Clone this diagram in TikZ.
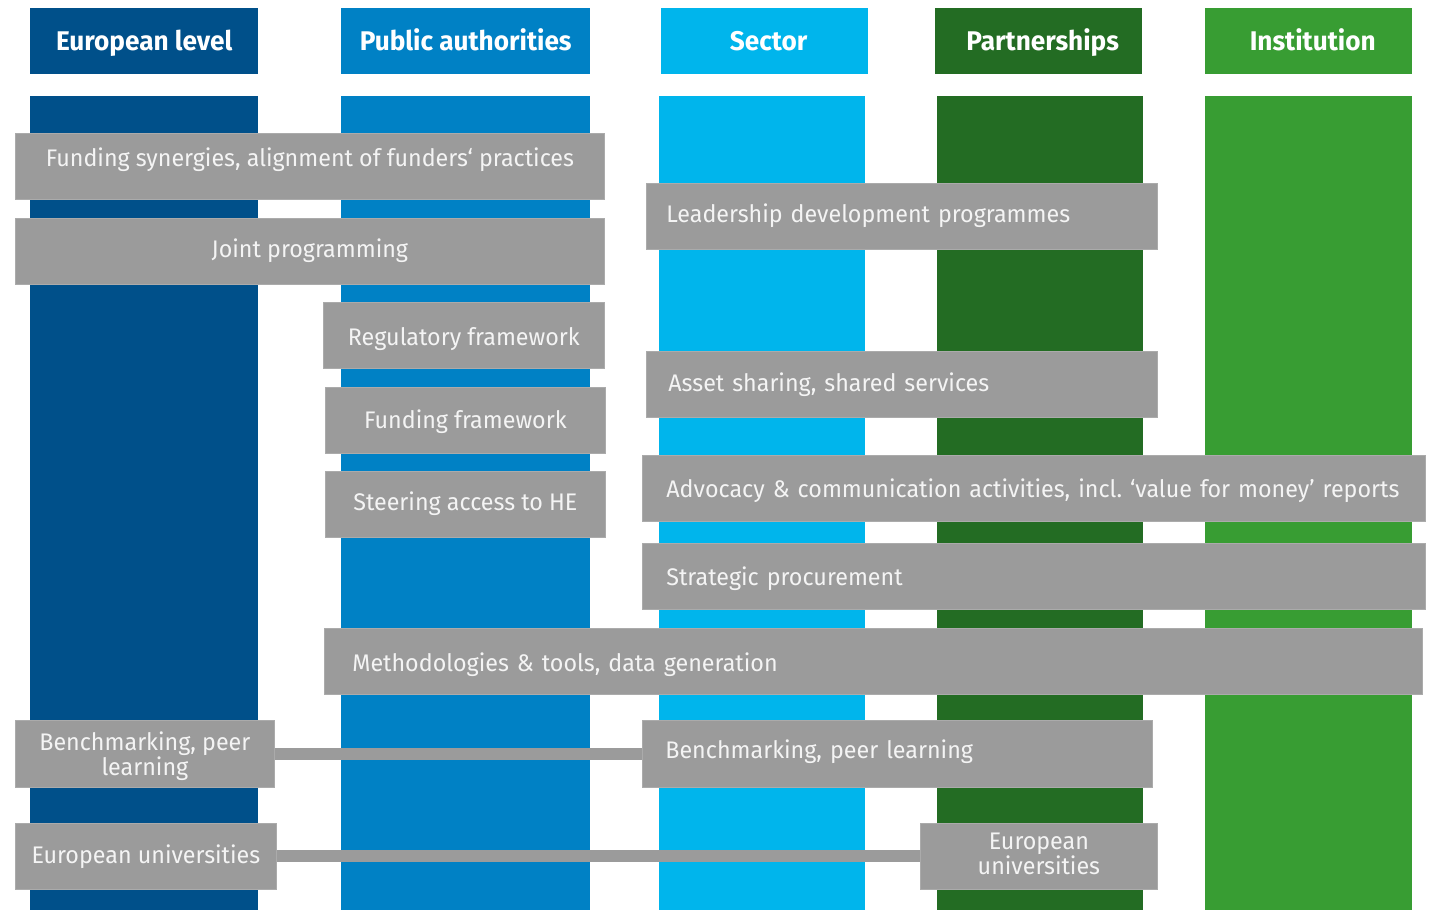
\documentclass[tikz,border=0pt]{standalone}
\usepackage{fontspec}
\setmainfont[FakeStretch=0.97]{Fira Sans}
\definecolor{ceu}{HTML}{00508A}
\definecolor{cpa}{HTML}{0081C5}
\definecolor{csec}{HTML}{00B5EC}
\definecolor{cpart}{HTML}{236C23}
\definecolor{cinst}{HTML}{389D33}
\definecolor{boxgray}{HTML}{9B9B9B}
\definecolor{boxedge}{HTML}{ABABAB}
\definecolor{boxtext}{HTML}{F4F4F4}
\renewcommand\arraystretch{0.92}
\begin{document}
\frenchspacing
\begin{tikzpicture}[x=1pt,y=-1pt,
  hdr/.style={anchor=north west, minimum height=66pt, inner sep=0pt, text=white,
    text height=19pt, text depth=0pt,
    font=\bfseries\fontsize{27}{28}\selectfont},
  colbar/.style={anchor=north west, minimum height=814pt, inner sep=0pt},
  gbox/.style={anchor=north west, fill=boxgray, draw=boxedge, line width=0.8pt,
    minimum height=66pt, inner ysep=0pt, inner xsep=0pt, text=boxtext, align=center,
    text height=16pt, text depth=0pt,
    font=\fontsize{24}{24}\selectfont},
  gboxl/.style={gbox, align=left, inner xsep=#1},
  conn/.style={draw=boxgray, line width=12pt}
]
\useasboundingbox (0,0) rectangle (1430,910);
% headers
\node[hdr, fill=ceu, minimum width=228pt] (h1) at (30,8) {European level};
\node[hdr, fill=cpa, minimum width=249pt] (h2) at (341,8) {Public authorities};
\node[hdr, fill=csec, minimum width=207pt] (h3) at (661,8) {\hspace*{8pt}Sector};
\node[hdr, fill=cpart, minimum width=207pt] (h4) at (935,8) {\hspace*{8pt}Partnerships};
\node[hdr, fill=cinst, minimum width=207pt] (h5) at (1205,8) {\hspace*{8pt}Institution};
% column bars
\node[colbar, fill=ceu, minimum width=228pt] (c1) at (30,96) {};
\node[colbar, fill=cpa, minimum width=249pt] (c2) at (341,96) {};
\node[colbar, fill=csec, minimum width=206pt] (c3) at (659,96) {};
\node[colbar, fill=cpart, minimum width=206pt] (c4) at (937,96) {};
\node[colbar, fill=cinst, minimum width=207pt] (c5) at (1205,96) {};
% grey boxes
\node[gbox, minimum width=589pt] (b1) at (15,133) {\raisebox{8pt}{Funding synergies, alignment of funders‘ practices}};
\node[gbox, minimum width=589pt] (b2) at (15,218) {\raisebox{2pt}{Joint programming}};
\node[gbox, minimum width=281pt] (b3) at (323,302) {\raisebox{-2pt}{Regulatory framework}};
\node[gbox, minimum width=280pt] (b4) at (325,387) {Funding framework};
\node[gbox, minimum width=280pt] (b5) at (325,471) {\raisebox{2pt}{Steering access to HE}};
\node[gboxl=20pt, text width=471pt] (b6) at (646,183) {\raisebox{2pt}{Leadership development programmes}};
\node[gboxl=22pt, text width=467pt] (b7) at (646,351) {\raisebox{1pt}{Asset sharing, shared services}};
\node[gboxl=24pt, text width=735pt] (b8) at (642,455) {\raisebox{-1pt}{Advocacy \& communication activities, incl. ‘value for money’ reports}};
\node[gboxl=24pt, text width=735pt] (b9) at (642,543) {\raisebox{-1pt}{Strategic procurement}};
\node[gboxl=28pt, text width=1042pt] (b10) at (324,628) {\raisebox{-2pt}{Methodologies \& tools, data generation}};
\node[gbox, minimum width=259pt, minimum height=67pt] (b11) at (15,720) {\raisebox{-14pt}{\begin{tabular}[b]{@{}c@{}}Benchmarking, peer\\learning\end{tabular}}};
\node[gboxl=23pt, text width=464pt, minimum height=67pt] (b12) at (642,720) {\raisebox{3pt}{Benchmarking, peer learning}};
\node[gbox, minimum width=261pt] (b13) at (15,823) {\raisebox{1pt}{European universities}};
\node[gbox, minimum width=237pt] (b14) at (920,823) {\raisebox{-10pt}{\begin{tabular}[b]{@{}c@{}}European\\universities\end{tabular}}};
% connectors
\draw[conn] (b11.east) -- (b12.west);
\draw[conn] (b13.east) -- (b14.west);
\end{tikzpicture}
\end{document}
